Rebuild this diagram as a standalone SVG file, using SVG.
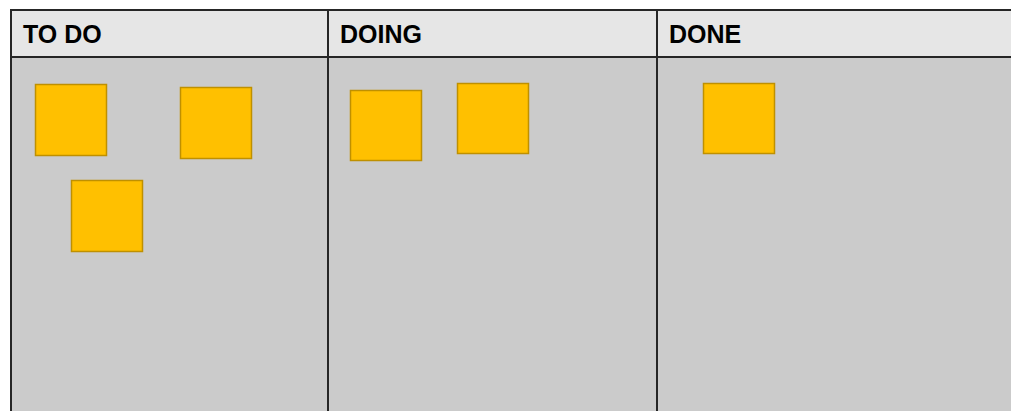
<svg xmlns="http://www.w3.org/2000/svg" width="1011" height="411" viewBox="0 0 1011 411">
<style>
.hdr{fill:#e6e6e6}
.body{fill:#cbcbcb}
.ln{stroke:#262626;stroke-width:2;fill:none}
.t{font-family:"Liberation Sans",Arial,sans-serif;font-weight:bold;font-size:25px;fill:#000}
.note{fill:#ffc000;stroke:#bf9000;stroke-width:1.5}
</style>
<rect x="0" y="0" width="1011" height="411" fill="#ffffff"/>
<g id="board">
<rect class="hdr" x="11" y="10" width="1000" height="47"/>
<rect class="body" x="11" y="57" width="1000" height="354"/>
<path class="ln" d="M11,411 V10 H1011 M11,57 H1011 M328,10 V411 M657,10 V411"/>
</g>
<g id="col-todo"><text class="t" x="23" y="43">TO DO</text></g>
<g id="col-doing"><text class="t" x="340" y="43">DOING</text></g>
<g id="col-done"><text class="t" x="669" y="43">DONE</text></g>
<g id="note-todo-1"><rect class="note" x="35.5" y="84.5" width="71" height="71"/></g>
<g id="note-todo-2"><rect class="note" x="180.5" y="87.5" width="71" height="71"/></g>
<g id="note-todo-3"><rect class="note" x="71.5" y="180.5" width="71" height="71"/></g>
<g id="note-doing-1"><rect class="note" x="350.5" y="90.5" width="71" height="70"/></g>
<g id="note-doing-2"><rect class="note" x="457.5" y="83.5" width="71" height="70"/></g>
<g id="note-done-1"><rect class="note" x="703.5" y="83.5" width="71" height="70"/></g>
<g id="connectors"></g>
</svg>
